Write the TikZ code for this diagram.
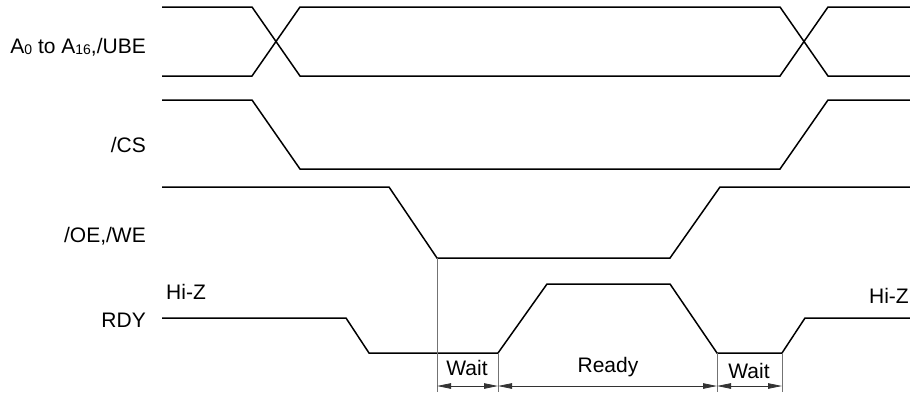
\documentclass[tikz,border=0pt]{standalone}
\usepackage{fontspec}
\setmainfont{Liberation Sans}
\usetikzlibrary{arrows.meta}
\usetikzlibrary{positioning}
\newcommand\lowsub[1]{\raisebox{-1.5pt}{\fontsize{14}{14}\selectfont #1}}

\begin{document}
\begin{tikzpicture}[x=1pt,y=-1pt,
  signal/.style={line width=1.5pt,line join=miter},
  guide/.style={line width=0.8pt,draw=black!55},
  dim/.style={line width=0.8pt,draw=black!80,{Triangle[length=14pt,width=5.5pt]}-{Triangle[length=14pt,width=5.5pt]}},
  lbl/.style={anchor=base east,inner sep=0pt,font=\fontsize{21}{25}\selectfont},
  txt/.style={anchor=base,inner sep=0pt,font=\fontsize{21}{25}\selectfont}]
  \useasboundingbox (0,0) rectangle (910,394);
  \node[lbl] (addr) at (146,53) {A\lowsub{0} to A\lowsub{16},/UBE};
  \node[lbl] (cs) at (146,152) {/CS};
  \node[lbl] (oewe) at (146,242) {/OE,/WE};
  \node[lbl] (rdy) at (146,327) {RDY};
  \node[txt,anchor=base west] (hizl) at (166,299) {Hi-Z};
  \node[txt,anchor=base east] (hizr) at (909,303) {Hi-Z};
  \draw[signal] (162,7) -- (252,7) -- (300,76) -- (780,76) -- (828,7) -- (910,7);
  \draw[signal] (162,76) -- (252,76) -- (300,7) -- (780,7) -- (828,76) -- (910,76);
  \draw[signal] (162,100) -- (252,100) -- (300,169) -- (780,169) -- (828,100) -- (910,100);
  \draw[signal] (162,187) -- (389,187) -- (437,258) -- (670,258) -- (720,187) -- (910,187);
  \draw[signal] (162,318) -- (346,318) -- (369,353) -- (498,353) -- (547,284)
    -- (670,284) -- (717,353) -- (782,353) -- (805,318) -- (910,318);
  \foreach \x/\y in {437/258,498/353,717/353,782/353}
    \draw[guide] (\x,\y) -- (\x,392);
  \coordinate (t1) at (437,386);
  \coordinate (t2) at (498,386);
  \coordinate (t3) at (717,386);
  \coordinate (t4) at (782,386);
  \draw[dim] (t1) -- (t2);
  \draw[dim] (t2) -- (t3);
  \draw[dim] (t3) -- (t4);
  \node[txt] (wait1) at (467,375) {Wait};
  \node[txt] (ready) at (608,372) {Ready};
  \node[txt] (wait2) at (749,378) {Wait};
\end{tikzpicture}
\end{document}
